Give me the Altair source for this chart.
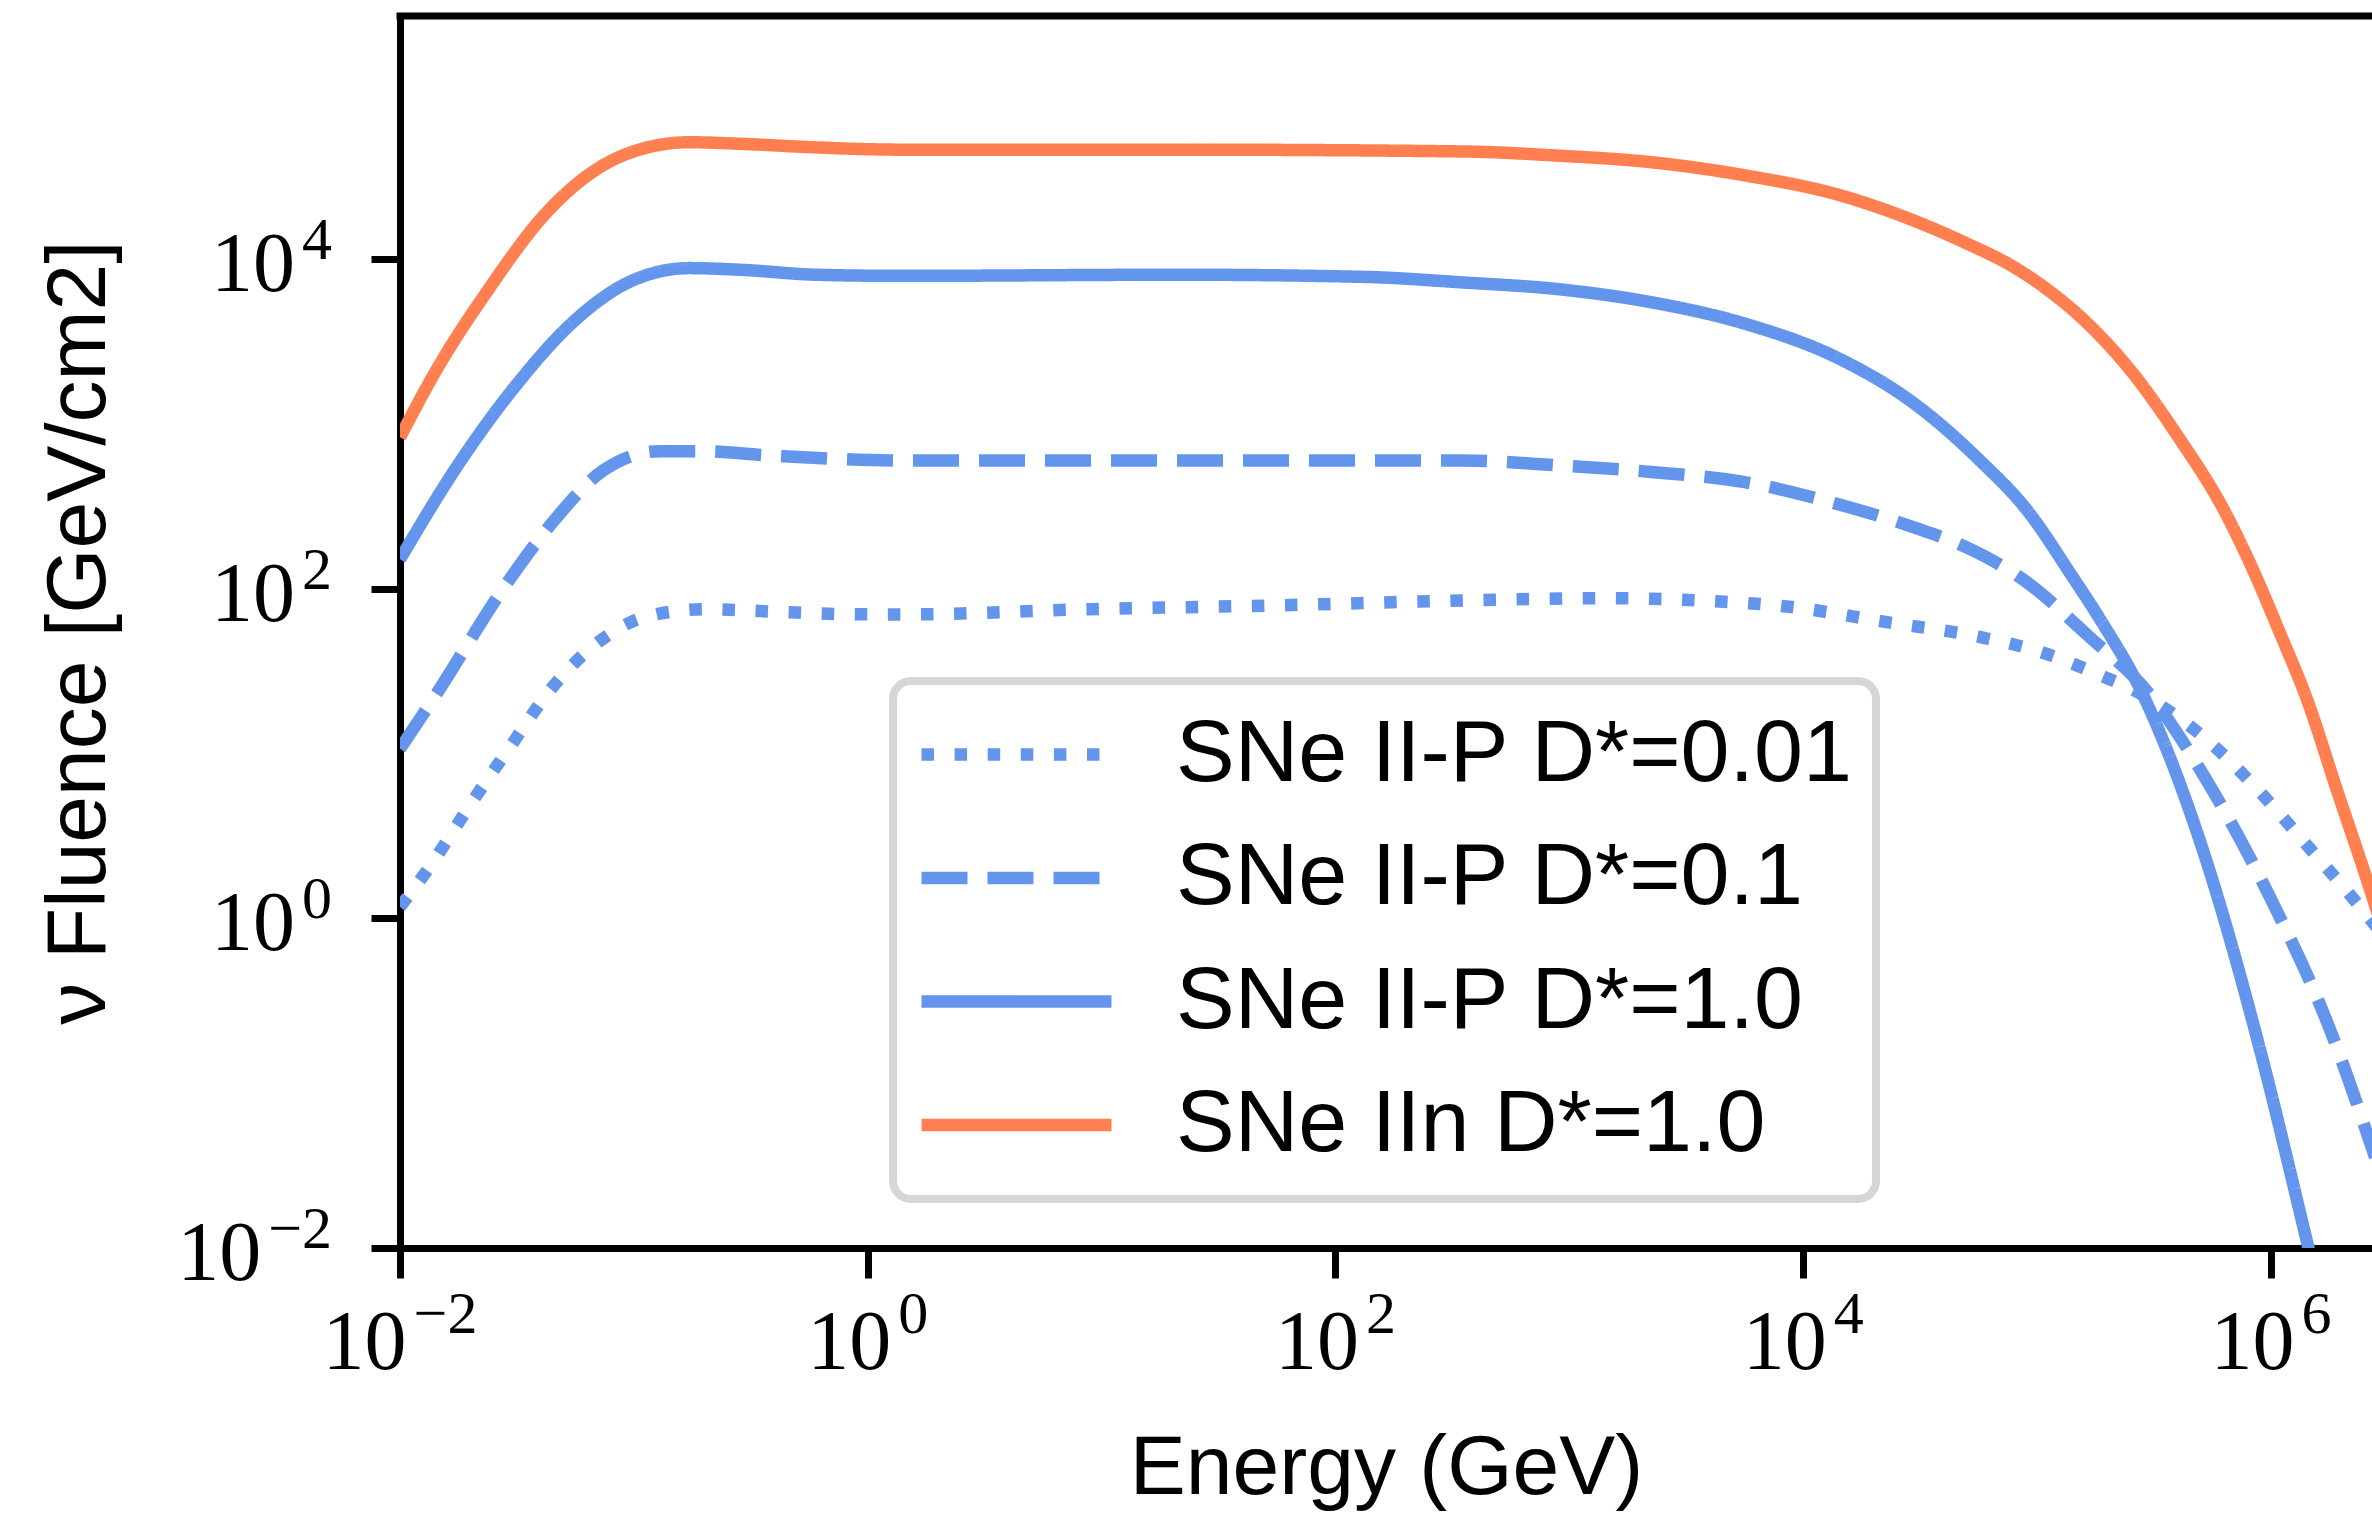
import altair as alt
import pandas as pd

# ---- data (log10 of energy in GeV, log10 of fluence in GeV/cm2) ----
series_names = ["SNe II-P D*=0.01", "SNe II-P D*=0.1", "SNe II-P D*=1.0", "SNe IIn D*=1.0"]

iip_001_logE = [-2.0, -1.87, -1.70, -1.53, -1.35, -1.13, -0.94, -0.69, -0.40, -0.10, 0.14, 0.94, 1.74,
                2.55, 3.15, 3.55, 3.95, 4.35, 4.75, 5.029, 5.249, 5.469, 5.747, 5.961, 6.161, 6.362, 6.452]
iip_001_logF = [0.07, 0.32, 0.69, 1.04, 1.40, 1.70, 1.835, 1.877, 1.862, 1.847, 1.845, 1.877, 1.90,
                1.93, 1.944, 1.93, 1.89, 1.80, 1.71, 1.611, 1.489, 1.343, 1.058, 0.755, 0.433, 0.103, -0.053]

iip_01_logE = [-2.0, -1.85, -1.55, -1.35, -1.13, -0.89, -0.72, -0.42, 0.14, 1.34, 2.55, 2.95, 3.35,
               3.75, 4.15, 4.47, 4.699, 4.957, 5.216, 5.475, 5.733, 5.992, 6.251, 6.445]
iip_01_logF = [1.03, 1.35, 2.02, 2.40, 2.72, 2.836, 2.836, 2.81, 2.78, 2.78, 2.78, 2.75, 2.71,
               2.648, 2.514, 2.375, 2.252, 2.040, 1.719, 1.370, 0.819, 0.140, -0.669, -1.449]

iip_1_logE = [-2.0, -1.75, -1.5, -1.256, -1.012, -0.764, -0.52, -0.226, 0.14, 1.34, 2.14, 2.545, 2.947,
              3.35, 3.75, 4.15, 4.47, 4.755, 4.956, 5.153, 5.277, 5.437, 5.717, 5.957, 6.157, 6.22]
iip_1_logF = [2.18, 2.757, 3.243, 3.625, 3.868, 3.947, 3.935, 3.907, 3.90, 3.907, 3.893, 3.86, 3.82,
              3.74, 3.61, 3.40, 3.13, 2.78, 2.48, 2.07, 1.798, 1.404, 0.38, -0.817, -1.98, -2.35]

iin_1_logE = [-2.0, -1.846, -1.624, -1.38, -1.132, -1.012, -0.764, -0.52, -0.226, 0.138, 1.342, 2.545,
              2.947, 3.349, 3.75, 4.153, 4.474, 4.699, 4.893, 5.022, 5.216, 5.410, 5.604, 5.798, 5.921,
              6.037, 6.160, 6.277, 6.432, 6.50]
iin_1_logF = [2.92, 3.325, 3.813, 4.274, 4.571, 4.65, 4.711, 4.70, 4.68, 4.666, 4.666, 4.655,
              4.63, 4.59, 4.51, 4.391, 4.235, 4.097, 3.960, 3.840, 3.611, 3.308, 2.922, 2.481, 2.123,
              1.737, 1.306, 0.801, 0.140, -0.17]

x_tick_values = [1e-2, 1e0, 1e2, 1e4, 1e6]
x_tick_exponents = ["−2", "0", "2", "4", "6"]
y_tick_values = [1e-2, 1e0, 1e2, 1e4]
y_tick_exponents = ["−2", "0", "2", "4"]

x_title = "Energy (GeV)"
y_title = "ν Fluence [GeV/cm2]"

colors = ["#6495ED", "#6495ED", "#6495ED", "#FF7F50"]
dashes = [[12.5, 20.6], [46, 20], [1, 0], [1, 0]]

# ---- build table ----
rows = []
for name, le, lf in zip(series_names,
                        [iip_001_logE, iip_01_logE, iip_1_logE, iin_1_logE],
                        [iip_001_logF, iip_01_logF, iip_1_logF, iin_1_logF]):
    for a, b in zip(le, lf):
        rows.append({"series": name, "energy": 10 ** a, "fluence": 10 ** b})
df = pd.DataFrame(rows)

# ---- layout / style ----
W, H = 1972, 1232
LW = 12.5
SERIF = "Liberation Serif"
SANS = "Liberation Sans"
BASE_FS = 84      # "10"
EXP_FS = 60       # exponent
BASE_W = 84       # width of "10" at BASE_FS
GAP = 7


def exp_width(s):
    return sum(0.564 * EXP_FS if ch == "−" else 0.5 * EXP_FS for ch in s)


x_scale = alt.Scale(type="log", domain=[1e-2, 10 ** 6.432], nice=False)
y_scale = alt.Scale(type="log", domain=[1e-2, 3e5], nice=False)

x_axis = alt.Axis(
    values=x_tick_values, labels=False,
    title=x_title, grid=False, tickSize=30, tickWidth=7, domainWidth=7,
    tickColor="black", domainColor="black", titleColor="black",
    titleFont=SANS, titleFontSize=84, titleFontWeight="normal",
    titleX=W / 2, titleY=245, titleBaseline="alphabetic", titleAlign="center",
)
y_axis = alt.Axis(
    values=y_tick_values, labels=False,
    title=y_title, grid=False, tickSize=29, tickWidth=7, domainWidth=7,
    tickColor="black", domainColor="black", titleColor="black",
    titleFont=SANS, titleFontSize=84, titleFontWeight="normal",
    titleX=-296, titleY=H / 2, titleAngle=270, titleBaseline="alphabetic", titleAlign="center",
)

legend = alt.Legend(
    title=None, orient="none", legendX=493, legendY=665,
    symbolType="stroke", symbolSize=190 * 190, symbolStrokeWidth=LW,
    clipHeight=103, rowPadding=20.5, labelOffset=58,
    labelFont=SANS, labelFontSize=88, labelColor="black", labelLimit=0,
    padding=22, strokeColor="#d6d6d6", fillColor="white", cornerRadius=18,
)

lines = alt.Chart(df).mark_line(strokeWidth=LW, clip=True, interpolate="monotone").encode(
    x=alt.X("energy:Q", scale=x_scale, axis=x_axis),
    y=alt.Y("fluence:Q", scale=y_scale, axis=y_axis),
    color=alt.Color("series:N", scale=alt.Scale(domain=series_names, range=colors), legend=legend),
    strokeDash=alt.StrokeDash("series:N", scale=alt.Scale(domain=series_names, range=dashes), legend=legend),
    detail="series:N",
)

one = alt.Data(values=[{"k": 0}])

top_spine = alt.Chart(one).mark_rule(
    color="black", strokeWidth=7, strokeCap="square"
).encode(x=alt.value(0), x2=alt.value(W), y=alt.value(0))

label_layers = []
# y tick labels: "10" plus a raised exponent, right-aligned against the ticks
for v, e in zip(y_tick_values, y_tick_exponents):
    ew = exp_width(e)
    right = -68
    label_layers.append(
        alt.Chart(one).mark_text(text="10", font=SERIF, fontSize=BASE_FS, align="right",
                                 baseline="alphabetic", dy=32, color="black")
        .encode(x=alt.value(right - ew - GAP), y=alt.YDatum(v, scale=y_scale, axis=y_axis))
    )
    label_layers.append(
        alt.Chart(one).mark_text(text=e, font=SERIF, fontSize=EXP_FS, align="right",
                                 baseline="alphabetic", dy=0, color="black")
        .encode(x=alt.value(right), y=alt.YDatum(v, scale=y_scale, axis=y_axis))
    )
# x tick labels: centred under each tick
for v, e in zip(x_tick_values, x_tick_exponents):
    ew = exp_width(e)
    total = BASE_W + GAP + ew
    label_layers.append(
        alt.Chart(one).mark_text(text="10", font=SERIF, fontSize=BASE_FS, align="left",
                                 baseline="alphabetic", dx=-total / 2, color="black")
        .encode(x=alt.XDatum(v, scale=x_scale, axis=x_axis), y=alt.value(H + 121))
    )
    label_layers.append(
        alt.Chart(one).mark_text(text=e, font=SERIF, fontSize=EXP_FS, align="left",
                                 baseline="alphabetic", dx=-total / 2 + BASE_W + GAP, color="black")
        .encode(x=alt.XDatum(v, scale=x_scale, axis=x_axis), y=alt.value(H + 85))
    )

chart = alt.layer(lines, top_spine, *label_layers).properties(
    width=W, height=H,
    autosize=alt.AutoSizeParams(type="none"),
    padding={"left": 400, "top": 16, "right": 0, "bottom": 266},
    background="white",
).configure_view(stroke=None).configure_legend(strokeWidth=8)

chart.save("out.html", embed_options={"renderer": "svg", "actions": False})
